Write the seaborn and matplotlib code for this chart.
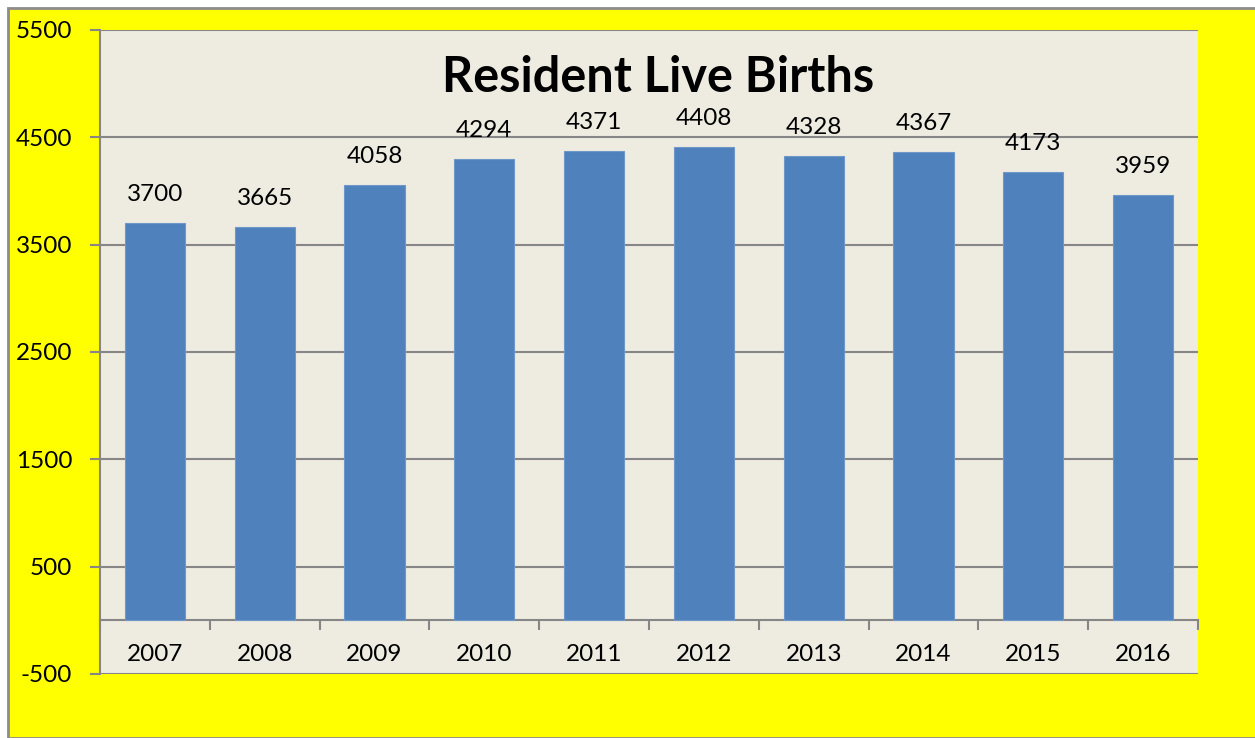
import numpy as np
import pandas as pd
import matplotlib
matplotlib.use("Agg")
import matplotlib.pyplot as plt
import seaborn as sns
from matplotlib.patches import Rectangle

years = ["2007", "2008", "2009", "2010", "2011", "2012", "2013", "2014", "2015", "2016"]
births = [3700, 3665, 4058, 4294, 4371, 4408, 4328, 4367, 4173, 3959]
y_ticks = [-500, 500, 1500, 2500, 3500, 4500, 5500]

data = pd.DataFrame({"Year": years, "Births": births})

sns.set_style("white")
plt.rcParams["font.family"] = ["Lato", "DejaVu Sans"]

fig = plt.figure(figsize=(12.55, 7.38), dpi=100, facecolor="white")
# yellow chart area with a grey border on top and left
fig.patches.append(Rectangle((8 / 1255, 0), 1, 1 - 7.5 / 738, transform=fig.transFigure,
                             facecolor="#FFFF00", edgecolor="#8C8C8C", linewidth=2, zorder=-10))

ax = fig.add_axes([100 / 1255, 64 / 738, 1098 / 1255, 644 / 738])
ax.set_facecolor("#EEECE1")

sns.barplot(data=data, x="Year", y="Births", color="#4F81BD", saturation=1,
            width=0.55, ax=ax, zorder=3, edgecolor="#6F97C9", linewidth=0.8)
ax.bar_label(ax.containers[0], padding=13, fontsize=17.5, color="black")

ax.set_ylim(-500, 5500)
ax.set_xlim(-0.5, 9.5)
ax.set_yticks(y_ticks)
ax.set_yticklabels([str(t) for t in y_ticks], fontsize=17.5, color="black")
ax.yaxis.grid(True, color="#868686", linewidth=1.5, zorder=1)
ax.set_axisbelow(True)

# x axis sits at zero, tick marks between categories, labels centered
ax.spines["bottom"].set_position(("data", 0))
ax.spines["bottom"].set_color("#868686")
ax.spines["bottom"].set_linewidth(1.5)
ax.spines["left"].set_color("#868686")
ax.spines["left"].set_linewidth(1.5)
ax.spines["top"].set_visible(False)
ax.spines["right"].set_visible(False)

ax.set_xticks(np.arange(-0.5, 10, 1))
ax.set_xticklabels([])
ax.set_xticks(np.arange(len(years)), minor=True)
ax.set_xticklabels(years, minor=True, fontsize=17.5, color="black")
ax.tick_params(axis="x", which="major", direction="out", length=7, width=1.5,
               color="#868686", bottom=True)
ax.tick_params(axis="x", which="minor", length=0, pad=17)
ax.tick_params(axis="y", direction="out", length=7, width=1.5, color="#868686",
               left=True, pad=13)

ax.set_xlabel("")
ax.set_ylabel("")

ax.text(0.508, 0.904, "Resident Live Births", transform=ax.transAxes,
        ha="center", va="baseline", fontsize=35, fontweight="bold", color="black")

fig.savefig("out.png", dpi=100, facecolor=fig.get_facecolor())
